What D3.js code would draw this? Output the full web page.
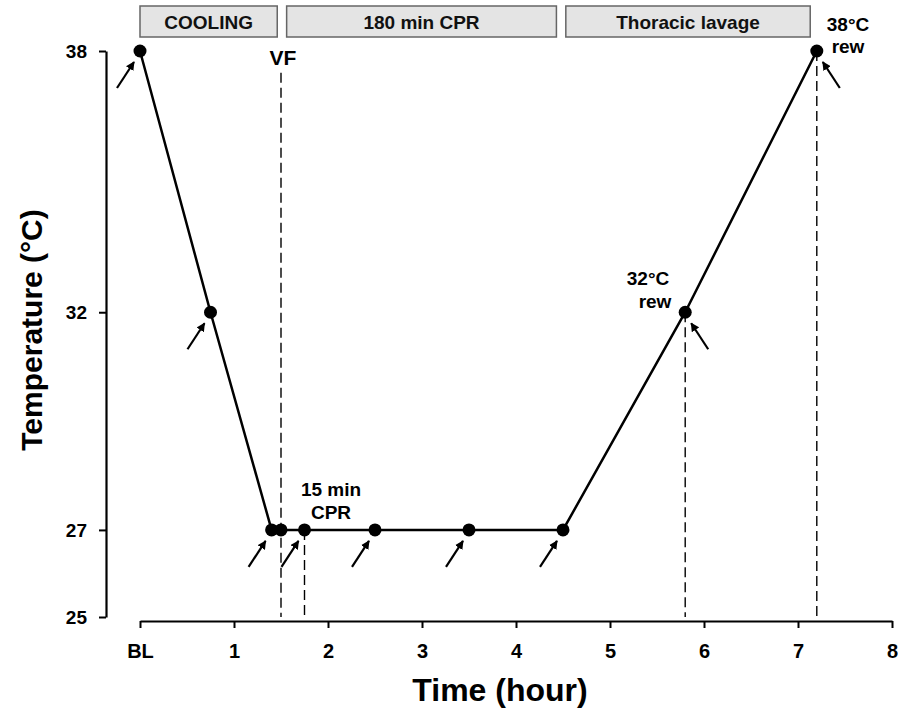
<!DOCTYPE html>
<html>
<head>
<meta charset="utf-8">
<script src="https://cdn.jsdelivr.net/npm/d3@7"></script>
<style>
  body { margin: 0; background: #fff; }
  text { font-family: "Liberation Sans", Arial, sans-serif; font-weight: bold; }
</style>
</head>
<body>
<svg id="chart" width="898" height="715"></svg>
<script>
// measured time points (hours) and temperature (°C)
var times = [0, 0.75, 1.4, 1.5, 1.75, 2.5, 3.5, 4.5, 5.8, 7.2],
    temps = [38, 32, 27, 27, 27, 27, 27, 27, 32, 38];
// sampling arrows: "L" = from lower left, "R" = from lower right, "" = none
var arrows = ["L", "L", "L", "", "L", "L", "L", "L", "R", "R"];

var phaseNames = ["COOLING", "180 min CPR", "Thoracic lavage"],
    phaseStart = [0, 1.56, 4.53],
    phaseEnd = [1.46, 4.43, 7.13];

var xTicks = [0, 1, 2, 3, 4, 5, 6, 7, 8],
    xTickLabels = ["BL", "1", "2", "3", "4", "5", "6", "7", "8"],
    yTicks = [25, 27, 32, 38];

// dashed guide lines: time, top temperature
var guideTimes = [1.5, 1.75, 5.8, 7.2],
    guideTops = [37.5, 27, 32, 38];

var svg = d3.select("#chart");

var x = d3.scaleLinear().domain([0, 8]).range([140, 892]);
var y = d3.scaleLinear().domain([25, 38]).range([617, 51]);

svg.append("defs").append("marker")
    .attr("id", "head")
    .attr("viewBox", "0 0 10 10")
    .attr("refX", 9).attr("refY", 5)
    .attr("markerWidth", 4).attr("markerHeight", 4)
    .attr("markerUnits", "strokeWidth")
    .attr("orient", "auto")
  .append("path")
    .attr("d", "M0,0L10,5L0,10z")
    .attr("fill", "#000");

// axes
var xAxis = svg.append("g")
    .attr("transform", "translate(0,621)")
    .call(d3.axisBottom(x).tickValues(xTicks).tickSize(7).tickSizeOuter(0)
      .tickFormat(function(d, i) { return xTickLabels[i]; }));
xAxis.select(".domain").attr("stroke-width", 2.2);
xAxis.selectAll(".tick line").attr("stroke-width", 2);
xAxis.selectAll(".tick text").attr("font-size", 20).attr("y", 37).attr("dy", 0)
    .style("font-family", "'Liberation Sans', Arial, sans-serif").style("font-weight", "bold");

var yAxis = svg.append("g")
    .attr("transform", "translate(106,0)")
    .call(d3.axisLeft(y).tickValues(yTicks).tickSize(7).tickSizeOuter(0));
yAxis.select(".domain").attr("stroke-width", 2.2);
yAxis.selectAll(".tick line").attr("stroke-width", 2);
yAxis.selectAll(".tick text").attr("font-size", 19).attr("x", -19)
    .style("font-family", "'Liberation Sans', Arial, sans-serif").style("font-weight", "bold");

svg.append("text")
    .attr("x", 500).attr("y", 701)
    .attr("text-anchor", "middle")
    .attr("font-size", 32)
    .text("Time (hour)");

svg.append("text")
    .attr("transform", "translate(42,330) rotate(-90)")
    .attr("text-anchor", "middle")
    .attr("font-size", 30)
    .text("Temperature (°C)");

// phase boxes
var phases = svg.selectAll(".phase").data(phaseNames).enter().append("g");
phases.append("rect")
    .attr("x", function(d, i) { return x(phaseStart[i]); })
    .attr("y", 6)
    .attr("width", function(d, i) { return x(phaseEnd[i]) - x(phaseStart[i]); })
    .attr("height", 31)
    .attr("fill", "#e4e4e4")
    .attr("stroke", "#666")
    .attr("stroke-width", 1.5);
phases.append("text")
    .attr("x", function(d, i) { return (x(phaseStart[i]) + x(phaseEnd[i])) / 2; })
    .attr("y", 29)
    .attr("text-anchor", "middle")
    .attr("font-size", 19)
    .attr("fill", "#111")
    .text(function(d) { return d; });

// dashed guides
svg.selectAll(".guide").data(guideTimes).enter().append("line")
    .attr("x1", function(d) { return x(d); })
    .attr("x2", function(d) { return x(d); })
    .attr("y1", function(d, i) { return y(guideTops[i]); })
    .attr("y2", y(25))
    .attr("stroke", "#000")
    .attr("stroke-width", 1.4)
    .attr("stroke-dasharray", "10,5");

// temperature curve
var pts = times.map(function(t, i) { return [t, temps[i]]; });
svg.append("path")
    .datum(pts)
    .attr("fill", "none")
    .attr("stroke", "#000")
    .attr("stroke-width", 2.5)
    .attr("d", d3.line().x(function(d) { return x(d[0]); }).y(function(d) { return y(d[1]); }));

svg.selectAll(".dot").data(pts).enter().append("circle")
    .attr("cx", function(d) { return x(d[0]); })
    .attr("cy", function(d) { return y(d[1]); })
    .attr("r", 6.5)
    .attr("fill", "#000");

// sampling arrows
svg.selectAll(".arrow").data(pts.filter(function(d, i) { return arrows[i]; })).enter().append("line")
    .each(function(d) {
      var side = arrows[times.indexOf(d[0])] === "L" ? -1 : 1,
          px = x(d[0]), py = y(d[1]);
      d3.select(this)
        .attr("x1", px + side * 23).attr("y1", py + 37)
        .attr("x2", px + side * 6).attr("y2", py + 11);
    })
    .attr("stroke", "#000")
    .attr("stroke-width", 2.2)
    .attr("marker-end", "url(#head)");

// annotations
var notes = [
  ["VF", 283, 65, 21],
  ["15 min", 331, 496, 19],
  ["CPR", 331, 519, 19],
  ["32°C", 648, 285, 19],
  ["rew", 655, 308, 19],
  ["38°C", 848, 31, 19],
  ["rew", 848, 53, 19]
];
svg.selectAll(".note").data(notes).enter().append("text")
    .attr("x", function(d) { return d[1]; })
    .attr("y", function(d) { return d[2]; })
    .attr("font-size", function(d) { return d[3]; })
    .attr("text-anchor", "middle")
    .text(function(d) { return d[0]; });
</script>
</body>
</html>
